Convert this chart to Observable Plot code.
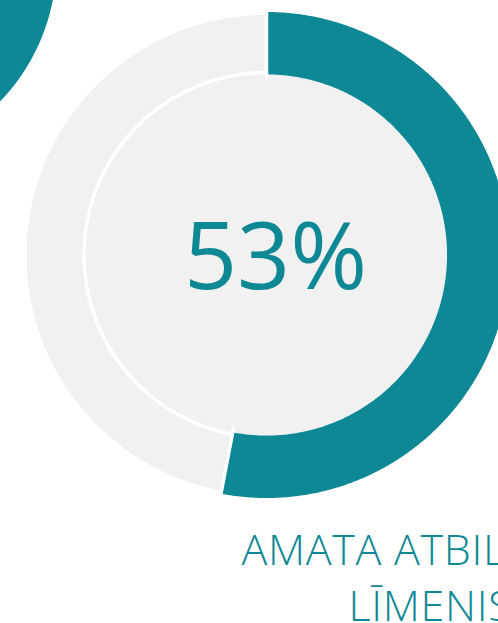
<!DOCTYPE html>
<html>
<head>
<meta charset="utf-8">
<script src="https://cdn.jsdelivr.net/npm/d3@7"></script>
<script src="https://cdn.jsdelivr.net/npm/@observablehq/plot@0.6"></script>
<style>
  html, body { margin: 0; padding: 0; background: #fff; }
  #chart svg { display: block; overflow: hidden; }
  .title-text text { letter-spacing: 0.7px; }
</style>
</head>
<body>
<div id="chart"></div>
<script>
// ---- data ----
const categories = ["Atbilst", "Neatbilst"];
const values = [53, 47];
const centerLabel = "53%";
const titleLines = ["AMATA ATBILSTĪBAS", "LĪMENIS"];
const sliceColors = ["#0f8896", "#f1f1f1"];

// ---- layout ----
const W = 498, H = 623;
const cx = 266, cy = 254.5, R = 243;          // pixels per unit
const outerR = [1.0, 0.988];                  // teal slightly larger
const innerR = 0.743;
const whiteArcR = 0.751;

const data = categories.map((c, i) => ({category: c, value: values[i], color: sliceColors[i]}));
const arcs = d3.pie().sort(null).value(d => d.value)(data);

function arcPoly(a0, a1, r0, r1, key, color) {
  const pts = [];
  const n = Math.max(8, Math.ceil((a1 - a0) / 0.01));
  for (let k = 0; k <= n; k++) {
    const a = a0 + (a1 - a0) * k / n;
    pts.push({x: r1 * Math.sin(a), y: -r1 * Math.cos(a), key, color});
  }
  for (let k = n; k >= 0; k--) {
    const a = a0 + (a1 - a0) * k / n;
    pts.push({x: r0 * Math.sin(a), y: -r0 * Math.cos(a), key, color});
  }
  pts.push({...pts[0]});
  return pts;
}
function arcLine(a0, a1, r, key) {
  const n = Math.max(8, Math.ceil((a1 - a0) / 0.01));
  return d3.range(n + 1).map(k => {
    const a = a0 + (a1 - a0) * k / n;
    return {x: r * Math.sin(a), y: -r * Math.cos(a), key};
  });
}

const slicePts = arcs.flatMap((a, i) => arcPoly(a.startAngle, a.endAngle, innerR, outerR[i], a.data.category, a.data.color));
const holePts = arcPoly(0, 2 * Math.PI, 0, innerR, "hole", "#f1f1f1");

// radial white separators at slice boundaries
const sepPts = arcs.flatMap((a, i) => [
  {x: innerR * 0.98 * Math.sin(a.startAngle), y: -innerR * 0.98 * Math.cos(a.startAngle), key: "s" + i},
  {x: 1.02 * Math.sin(a.startAngle), y: -1.02 * Math.cos(a.startAngle), key: "s" + i}
]);
// white line between the grey slice and the centre disc
const grey = arcs[1];
const whiteArc = arcLine(grey.startAngle, grey.endAngle, whiteArcR, "w");

// neighbouring donut (cropped, top-left)
const nb = {x: -1.695, y: -1.208, r: 0.831};
const nbPts = arcPoly(0, 2 * Math.PI, 0, nb.r, "nb", sliceColors[0]).map(p => ({...p, x: p.x + nb.x, y: p.y + nb.y}));

const chart = Plot.plot({
  width: W,
  height: H,
  margin: 0,
  style: {background: "#fff", overflow: "hidden"},
  x: {type: "linear", domain: [-1, 1], range: [cx - R, cx + R], axis: null},
  y: {type: "linear", domain: [-1, 1], range: [cy - R, cy + R], axis: null},
  marks: [
    Plot.line(nbPts, {x: "x", y: "y", z: "key", fill: sliceColors[0], stroke: "none"}),
    Plot.line(holePts, {x: "x", y: "y", z: "key", fill: "#f1f1f1", stroke: "none"}),
    Plot.line(slicePts, {x: "x", y: "y", z: "key", fill: d => d.color, stroke: "none"}),
    Plot.line(whiteArc, {x: "x", y: "y", z: "key", stroke: "#fff", strokeWidth: 3.5}),
    Plot.line(sepPts, {x: "x", y: "y", z: "key", stroke: "#fff", strokeWidth: 3.5}),
    Plot.text([centerLabel], {
      frameAnchor: "top-left", dx: 275, dy: 259, text: d => d,
      fill: sliceColors[0], fontSize: 93, fontFamily: "Open Sans", fontWeight: 400,
      textAnchor: "middle", lineAnchor: "middle"
    }),
    Plot.text([titleLines[0]], {
      frameAnchor: "top-left", dx: 241, dy: 564, text: d => d, className: "title-text",
      fill: sliceColors[0], fontSize: 43, fontFamily: "Open Sans", fontWeight: 300,
      textAnchor: "start", lineAnchor: "bottom"
    }),
    Plot.text([titleLines[1]], {
      frameAnchor: "top-left", dx: 348, dy: 620, text: d => d, className: "title-text",
      fill: sliceColors[0], fontSize: 43, fontFamily: "Open Sans", fontWeight: 300,
      textAnchor: "start", lineAnchor: "bottom"
    })
  ]
});
document.getElementById("chart").appendChild(chart);
</script>
</body>
</html>
